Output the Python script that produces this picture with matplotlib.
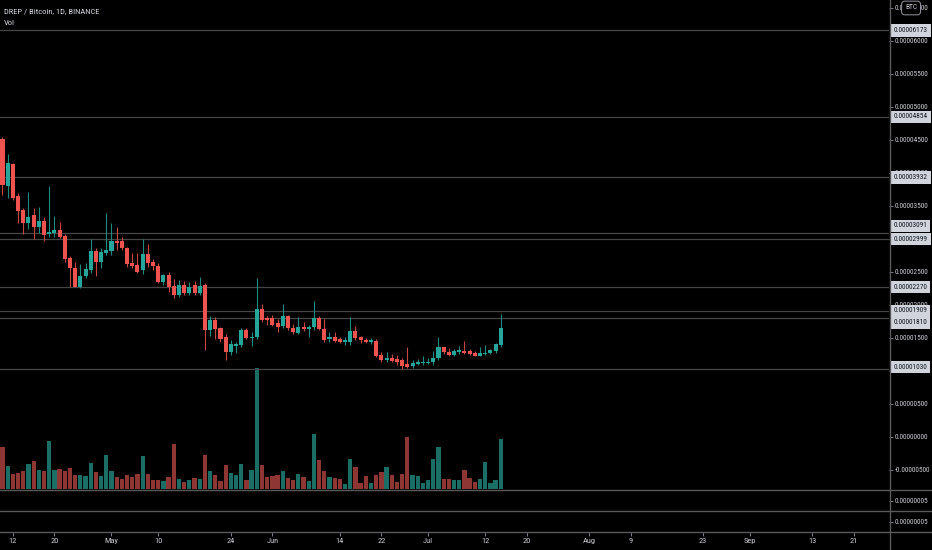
import numpy as np
import pandas as pd
import matplotlib
matplotlib.use("Agg")
import matplotlib.pyplot as plt
import matplotlib.dates as mdates
from matplotlib.lines import Line2D
from matplotlib import font_manager

# ---------------- data (prices in satoshi, 1e-8 BTC) ----------------
dates = pd.date_range("2019-04-10", periods=97, freq="D")

opens = [4515, 3803, 4136, 3656, 3439, 3237, 3363, 3186, 3277, 3070,
         3085, 3136, 3045, 2707, 2565, 2277, 2439, 2530, 2822, 2646,
         2792, 2822, 2970, 2970, 2859, 2631, 2606, 2530, 2772, 2656,
         2590, 2353, 2454, 2288, 2147, 2303, 2186, 2303, 2186, 2308,
         1621, 1773, 1647, 1510, 1292, 1383, 1394, 1621, 1505, 1510,
         1935, 1808, 1798, 1722, 1682, 1833, 1656, 1580, 1671, 1641,
         1671, 1798, 1636, 1480, 1520, 1480, 1444, 1434, 1606, 1510,
         1470, 1444, 1459, 1242, 1167, 1202, 1177, 1167, 1101, 1076,
         1106, 1126, 1126, 1132, 1192, 1359, 1293, 1242, 1283, 1308,
         1303, 1268, 1232, 1257, 1268, 1303, 1394]
highs = [4545, 4287, 4150, 3692, 3470, 3716, 3469, 3484, 3333, 3803,
         3348, 3262, 3080, 2740, 2656, 2616, 2636, 3004, 2858, 2858,
         3389, 3237, 3177, 3025, 2874, 2783, 2783, 2995, 2919, 2700,
         2640, 2470, 2500, 2400, 2378, 2360, 2353, 2360, 2429, 2330,
         1833, 1820, 1671, 1560, 1469, 1444, 1646, 1650, 1595, 2413,
         2015, 1833, 1848, 1783, 2010, 1850, 1707, 1813, 1742, 1700,
         2060, 1833, 1783, 1595, 1595, 1520, 1520, 1823, 1682, 1530,
         1495, 1505, 1490, 1293, 1293, 1257, 1242, 1200, 1368, 1160,
         1180, 1227, 1200, 1303, 1510, 1365, 1343, 1330, 1379, 1454,
         1340, 1300, 1368, 1394, 1340, 1429, 1863]
lows = [3666, 3621, 3591, 3242, 3075, 3151, 3000, 3091, 2970, 3035,
        3030, 3020, 2656, 2277, 2270, 2260, 2404, 2484, 2444, 2565,
        2757, 2752, 2833, 2833, 2580, 2565, 2489, 2469, 2570, 2530,
        2328, 2300, 2197, 2101, 2120, 2150, 2150, 2150, 2150, 1318,
        1530, 1485, 1440, 1167, 1242, 1268, 1368, 1480, 1379, 1480,
        1742, 1697, 1682, 1595, 1656, 1621, 1560, 1560, 1606, 1510,
        1620, 1620, 1444, 1440, 1440, 1420, 1394, 1394, 1470, 1429,
        1420, 1409, 1217, 1141, 1130, 1130, 1090, 1035, 1040, 1050,
        1090, 1090, 1110, 1091, 1167, 1262, 1230, 1230, 1262, 1262,
        1237, 1227, 1227, 1237, 1250, 1270, 1360]
closes = [3818, 4151, 3621, 3424, 3242, 3338, 3186, 3272, 3055, 3110,
          3136, 3035, 2692, 2556, 2277, 2444, 2541, 2822, 2656, 2803,
          2833, 2970, 2934, 2859, 2621, 2590, 2504, 2772, 2631, 2590,
          2353, 2454, 2277, 2147, 2298, 2177, 2277, 2177, 2288, 1621,
          1773, 1631, 1480, 1292, 1404, 1404, 1621, 1495, 1520, 1935,
          1773, 1773, 1697, 1671, 1833, 1656, 1586, 1671, 1631, 1662,
          1798, 1636, 1470, 1520, 1459, 1434, 1470, 1606, 1495, 1470,
          1444, 1470, 1232, 1167, 1202, 1156, 1132, 1076, 1065, 1116,
          1141, 1141, 1141, 1202, 1359, 1283, 1242, 1303, 1318, 1277,
          1257, 1232, 1268, 1277, 1318, 1409, 1647]
volumes = [42, 23, 15, 15.6, 17.6, 24.6, 28, 19.3, 18, 47.6,
           19.3, 20, 17.6, 20.6, 14.3, 14.3, 13.3, 26, 16.6, 12.6,
           34, 18, 12, 10, 13.6, 12, 14.6, 32.6, 14.6, 9.3,
           9.3, 8.3, 12, 45.3, 10.3, 7.3, 9.3, 10.6, 10, 34,
           18, 14, 7.6, 23.6, 16, 14, 24.6, 8.6, 19.5, 121,
           24.3, 12.3, 13, 14.3, 17.6, 10.6, 8.6, 14.6, 11.6, 7.6,
           55.3, 28.6, 18.3, 12, 10.6, 9.6, 5.3, 29.6, 21.6, 5.6,
           13, 6.3, 13.6, 17, 22, 13.6, 7, 14.6, 52.3, 13.6,
           12.6, 5.6, 8.6, 29.6, 42.3, 9.6, 9.6, 8.6, 9.3, 18.6,
           10.6, 7.3, 9.6, 27.3, 5.6, 9.3, 49.6]

level_values = [6173, 4854, 3932, 3091, 2999, 2270, 1909, 1810, 1030]
level_label_shift = [-1, 0, 0, 7, 0, 0, 0, -5, 2]   # pixel nudges to avoid overlap

tick_dates = ["2019-04-12", "2019-04-20", "2019-05-01", "2019-05-10", "2019-05-24",
              "2019-06-01", "2019-06-14", "2019-06-22", "2019-07-01", "2019-07-12",
              "2019-07-20", "2019-08-01", "2019-08-09", "2019-08-23", "2019-09-01",
              "2019-09-13", "2019-09-21"]
tick_labels = ["12", "20", "May", "10", "24", "Jun", "14", "22", "Jul", "12",
               "20", "Aug", "9", "23", "Sep", "13", "21"]

title = "DREP / Bitcoin, 1D, BINANCE"

# ---------------- font choice: prefer a narrow face ----------------
entries = [(f.name, str(f.stretch)) for f in font_manager.fontManager.ttflist]
choice = None
for want in ("Liberation Sans Narrow", "Roboto Condensed", "Open Sans Condensed"):
    for n, s in entries:
        if n == want:
            choice = (n, s)
            break
    if choice:
        break
if choice is None:
    for n, s in entries:
        if n in ("DejaVu Sans", "Roboto", "Open Sans", "Noto Sans") and "condensed" in s \
                and "extra" not in s and "ultra" not in s:
            choice = (n, s)
            break
if choice is None:
    choice = ("Liberation Sans", "normal")
plt.rcParams["font.family"] = [choice[0], "DejaVu Sans"]
plt.rcParams["font.stretch"] = choice[1]

BG = "#000000"
UP, DOWN = "#26a69a", "#ef5350"
UP_WICK, DOWN_WICK = "#1f8a80", "#c4463f"
UP_VOL, DOWN_VOL = "#1b6e66", "#8e3634"
TXT = "#c8cad0"
SEP = "#5a5a5a"

W, H = 932, 550
fig = plt.figure(figsize=(W / 100, H / 100), dpi=100, facecolor=BG)
renderer = fig.canvas.get_renderer()


def fit_size(s, target_px):
    t = fig.text(0, 0, s, fontsize=10)
    w = t.get_window_extent(renderer).width
    t.remove()
    return 10 * target_px / w


FS = min(max(fit_size("0.00006000", 34.5), 4.6), 6.5)
FS_T = min(max(fit_size(title, 96), 5.5), 7.0)
FS_X = 6.0


def rect(x0, y0, x1, y1):
    return [x0 / W, 1 - y1 / H, (x1 - x0) / W, (y1 - y0) / H]


ax_vol = fig.add_axes(rect(0, 0, 889, 489))
ax = fig.add_axes(rect(0, 0, 889, 489), sharex=ax_vol)
ax_p2 = fig.add_axes(rect(0, 490, 889, 511), sharex=ax_vol)
ax_p3 = fig.add_axes(rect(0, 511, 889, 532), sharex=ax_vol)

for a in (ax_vol, ax, ax_p2, ax_p3):
    a.set_facecolor(BG)
    for s in a.spines.values():
        s.set_visible(False)
ax.patch.set_alpha(0)
ax_vol.set_zorder(0)
ax.set_zorder(1)

x = mdates.date2num(dates)
o = np.array(opens, float)
h = np.array(highs, float)
l = np.array(lows, float)
c = np.array(closes, float)
v = np.array(volumes, float)
up = c >= o

# volume
ax_vol.bar(x, v, width=0.82, color=np.where(up, UP_VOL, DOWN_VOL), linewidth=0)
ax_vol.set_ylim(0, 489)
ax_vol.set_yticks([])
ax_vol.tick_params(bottom=False, labelbottom=False)

# price levels
for val in level_values:
    ax.axhline(val, color="#464646", lw=0.9, zorder=0.5)

# candles
ax.vlines(x[up], l[up], h[up], color=UP_WICK, lw=0.8, zorder=2)
ax.vlines(x[~up], l[~up], h[~up], color=DOWN_WICK, lw=0.8, zorder=2)
body_lo = np.minimum(o, c)
body_h = np.maximum(np.abs(c - o), 12)
ax.bar(x, body_h, bottom=body_lo, width=0.78, color=np.where(up, UP, DOWN),
       linewidth=0, zorder=3)

ax.set_xlim(x[0] - 0.48, x[0] + 170.8)
ax.set_ylim(-788, 6621)

fmt = plt.FuncFormatter(lambda val, p: f"{val * 1e-8:.8f}")
ax.yaxis.tick_right()
ax.set_yticks(np.arange(-500, 6501, 500))
ax.yaxis.set_major_formatter(fmt)
ax.tick_params(axis="y", length=3, width=0.7, color="#787b86", labelcolor=TXT,
               labelsize=FS, pad=1.2)
ax.tick_params(axis="x", bottom=False, labelbottom=False)

# highlighted level labels
for val, dy in zip(level_values, level_label_shift):
    ax.annotate(f"{val * 1e-8:.8f}", xy=(1, val), xycoords=("axes fraction", "data"),
                xytext=(5, dy), textcoords="offset pixels", ha="left", va="center",
                fontsize=FS, color="#131722", annotation_clip=False, zorder=6,
                bbox=dict(boxstyle="square,pad=0.35", fc="#d1d4dc", ec="none"))

# currency badge
ax.annotate("BTC", xy=(1, 6500), xycoords=("axes fraction", "data"),
            xytext=(16, 0), textcoords="offset pixels", ha="left", va="center",
            fontsize=FS, color=TXT, annotation_clip=False, zorder=6,
            bbox=dict(boxstyle="round,pad=0.45,rounding_size=0.4", fc=BG,
                      ec="#9598a1", lw=0.7))

# lower panes
for a in (ax_p2, ax_p3):
    a.set_ylim(0, 10)
    a.yaxis.tick_right()
    a.set_yticks([5])
    a.yaxis.set_major_formatter(fmt)
    a.tick_params(axis="y", length=3, width=0.7, color="#787b86", labelcolor=TXT,
                  labelsize=FS, pad=1.2)
ax_p2.tick_params(axis="x", bottom=False, labelbottom=False)

tx = mdates.date2num(pd.to_datetime(tick_dates))
ax_p3.set_xticks(tx)
ax_p3.set_xticklabels(tick_labels)
ax_p3.tick_params(axis="x", length=3, width=0.7, color="#787b86", labelcolor=TXT,
                  labelsize=FS_X, pad=1.5)

# separators and right axis line
for yy in (489.5, 511, 532):
    fig.add_artist(Line2D([0, 1], [1 - yy / H] * 2, transform=fig.transFigure,
                          color=SEP, lw=1))
fig.add_artist(Line2D([889.5 / W] * 2, [0, 1], transform=fig.transFigure,
                      color=SEP, lw=1))

fig.text(4 / W, 1 - 11 / H, title, color="#d1d4dc", fontsize=FS_T, va="center")
fig.text(4 / W, 1 - 23 / H, "Vol", color="#d1d4dc", fontsize=FS_T, va="center")

fig.savefig("out.png", dpi=100, facecolor=BG)
